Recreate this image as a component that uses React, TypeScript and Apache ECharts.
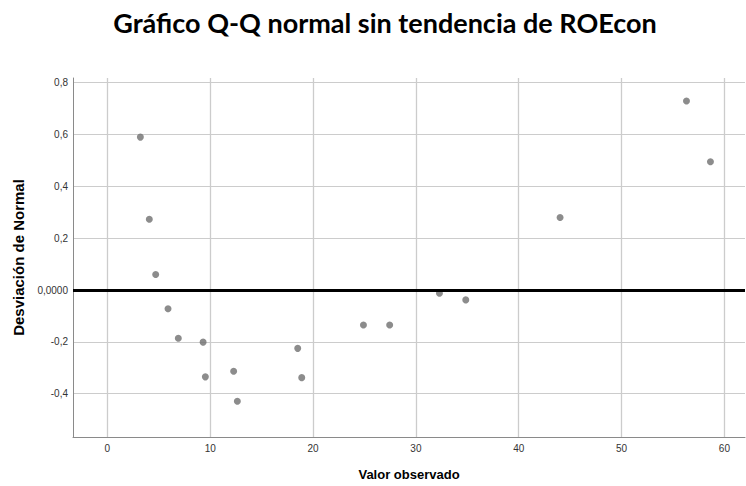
import React, { useEffect, useRef } from "react";
import * as echarts from "echarts";

const observedValues: number[] = [
  3.21, 4.08, 4.7, 5.9, 6.9, 9.31, 9.53, 12.28, 12.64, 18.51, 18.9,
  24.9, 27.45, 32.29, 34.85, 44.02, 56.31, 58.64,
];
const deviations: number[] = [
  0.59, 0.273, 0.06, -0.072, -0.186, -0.201, -0.335, -0.313, -0.429, -0.225,
  -0.338, -0.135, -0.135, -0.0125, -0.038, 0.28, 0.729, 0.495,
];

const titleText = "Gráfico Q-Q normal sin tendencia de ROEcon";
const xName = "Valor observado";
const yName = "Desviación de Normal";

export default function App() {
  const ref = useRef<HTMLDivElement>(null);
  useEffect(() => {
    if (!ref.current) return;
    const chart = echarts.init(ref.current, undefined, { renderer: "svg" });
    const points = observedValues.map((x, i) => [x, deviations[i]]);
    chart.setOption({
      animation: false,
      backgroundColor: "#ffffff",
      title: {
        text: titleText,
        left: 380,
        textAlign: "center",
        top: 4,
        textStyle: {
          fontFamily: "Lato",
          fontWeight: "bold",
          fontSize: 27,
          color: "#000",
        },
      },
      grid: { left: 73, top: 78, right: 1, bottom: 43, containLabel: false },
      xAxis: {
        type: "value",
        min: -3.34,
        max: 62,
        splitNumber: 7,
        name: xName,
        nameLocation: "middle",
        nameGap: 31,
        nameTextStyle: {
          fontFamily: "Liberation Sans",
          fontWeight: "bold",
          fontSize: 13,
          color: "#000",
        },
        axisLine: { show: true, onZero: false, lineStyle: { color: "#8a8a8a", width: 1 } },
        axisTick: { show: false },
        axisLabel: {
          showMinLabel: false,
          showMaxLabel: false,
          fontFamily: "Liberation Sans",
          fontSize: 10,
          color: "#333",
          margin: 6,
        },
        splitLine: {
          show: true,
          showMinLine: false,
          showMaxLine: false,
          lineStyle: { color: "#cccccc", width: 1.3 },
        },
      },
      yAxis: {
        type: "value",
        min: -0.567,
        max: 0.818,
        splitNumber: 7,
        name: yName,
        nameLocation: "middle",
        nameGap: 47,
        nameTextStyle: {
          fontFamily: "Liberation Sans",
          fontWeight: "bold",
          fontSize: 15,
          color: "#000",
        },
        axisLine: { show: true, onZero: false, lineStyle: { color: "#8a8a8a", width: 1 } },
        axisTick: { show: false },
        axisLabel: {
          showMinLabel: false,
          showMaxLabel: false,
          fontFamily: "Liberation Sans",
          fontSize: 10,
          color: "#333",
          margin: 5,
          formatter: (v: number) =>
            Math.abs(v) < 1e-9 ? "0,0000" : v.toFixed(1).replace(".", ","),
        },
        splitLine: {
          show: true,
          showMinLine: false,
          showMaxLine: false,
          lineStyle: { color: "#cccccc", width: 1 },
        },
      },
      series: [
        {
          type: "scatter",
          data: points,
          symbol: "circle",
          symbolSize: 7,
          itemStyle: { color: "#6f6f6f" },
          markLine: {
            silent: true,
            symbol: "none",
            label: { show: false },
            lineStyle: { color: "#000", width: 3, type: "solid" },
            data: [{ yAxis: 0 }],
          },
        },
      ],
    });
    return () => chart.dispose();
  }, []);
  return <div ref={ref} style={{ width: 746, height: 486, position: "fixed", left: 0, top: 0 }} />;
}
